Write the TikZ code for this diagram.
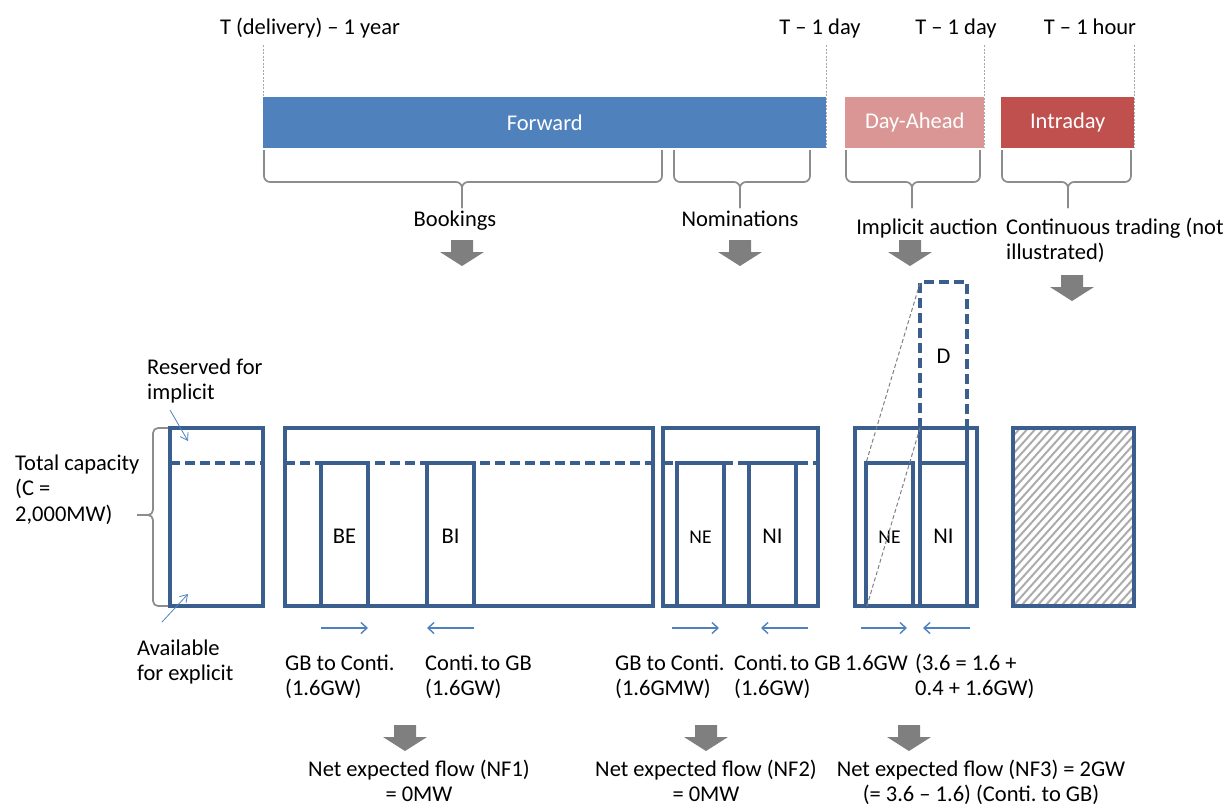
\documentclass[tikz,border=0pt]{standalone}
\usepackage{fontspec}
\setmainfont{Carlito}
\usetikzlibrary{arrows.meta}
\frenchspacing
\definecolor{fwd}{HTML}{4F81BD}
\definecolor{dayahead}{HTML}{D99694}
\definecolor{intra}{HTML}{C0504D}
\definecolor{boxblue}{HTML}{3A5F8F}
\definecolor{garrow}{HTML}{7F7F7F}
\definecolor{bracegray}{HTML}{8C8C8C}
\newcommand{\tsp}{\hspace{0.1em}}
\tikzset{
  lbl/.style={inner sep=0pt, align=left, anchor=base west},
  clbl/.style={inner sep=0pt, align=center, anchor=base},
  bar/.style={draw=none, inner sep=0pt, anchor=north west, text=white, minimum height=51pt},
  tick/.style={draw=gray!70, line width=0.8pt, dash pattern=on 2pt off 1.5pt},
  bracestyle/.style={draw=bracegray, line width=1.7pt, rounded corners=6pt},
  bxs/.style={draw=boxblue, line width=3.2pt},
  bxd/.style={draw=boxblue, line width=3.2pt, dash pattern=on 10pt off 5pt},
  blockarr/.style={fill=garrow, draw=none},
  flowarr/.style={draw=fwd, line width=1.4pt, -{Straight Barb[length=6pt,width=11pt]}},
  ptr/.style={draw=fwd, line width=0.8pt, -{Straight Barb[length=7pt,width=9pt]}},
  proj/.style={draw=gray, line width=1pt, dash pattern=on 4pt off 2.5pt},
  small/.style={font=\fontsize{19.5}{22}\selectfont}
}
\begin{document}
\begin{tikzpicture}[x=1pt,y=-1pt, font=\fontsize{22.5}{25.5}\selectfont\frenchspacing]
\useasboundingbox (0,0) rectangle (1232,807);

% ---- top time labels
\node[clbl] (tyear) at (310,34) {T (delivery) – 1 year};
\node[clbl] (tday1) at (820,34) {T – 1 day};
\node[clbl] (tday2) at (956,34) {T – 1 day};
\node[clbl] (thour) at (1090,34) {T – 1 hour};

% ---- dashed ticks
\coordinate (k1a) at (263,45); \coordinate (k1b) at (263,97);
\coordinate (k2a) at (826,45); \coordinate (k2b) at (826,148);
\coordinate (k3a) at (984,45); \coordinate (k3b) at (984,148);
\coordinate (k4a) at (1134,45); \coordinate (k4b) at (1134,148);
\draw[tick] (k1a) -- (k1b);
\draw[tick] (k2a) -- (k2b);
\draw[tick] (k3a) -- (k3b);
\draw[tick] (k4a) -- (k4b);

% ---- bars
\node[bar, fill=fwd, minimum width=563pt] (fwdbar) at (263,97) {Forward};
\node[bar, fill=dayahead, minimum width=139pt] (dabar) at (845,97) {Day-Ahead};
\node[bar, fill=intra, minimum width=133pt] (idbar) at (1001,97) {Intraday};

% ---- braces
\foreach \a/\b/\m in {264/662/462, 674/810/740, 846/980/912, 1002/1131/1068}{
  \draw[bracestyle] (\a,150) -- (\a,182) -- (\m,182) -- (\m,208);
  \draw[bracestyle] (\b,150) -- (\b,182) -- (\m,182) -- (\m,208);
}

% ---- phase labels
\node[clbl] (book) at (455,226) {Bookings};
\node[clbl] (nomi) at (740,226) {Nominations};
\node[clbl] (impl) at (927,234) {Implicit auction};
\node[lbl] (cont) at (1006,259.5) {Continuous trading (not\\illustrated)};

% ---- grey block arrows
\foreach \c/\t in {462/240, 740/240, 910/240, 1072/275, 405/725, 706/725, 909/725}{
  \fill[blockarr] (\c-11,\t) -- (\c+11,\t) -- (\c+11,\t+12) -- (\c+22,\t+12) -- (\c,\t+26) -- (\c-22,\t+12) -- (\c-11,\t+12) -- cycle;
}

% ---- left labels
\node[lbl] (resv) at (147,399.5) {Reserved for\\implicit};
\node[lbl] (total) at (15,521) {Total capacity\\(C =\\2,000MW)};
\node[lbl] (avail) at (137,680.5) {Available\\for explicit};

% left brace
\draw[bracestyle, rounded corners=5pt] (170,428) -- (153,428) -- (153,515) -- (137,515);
\draw[bracestyle, rounded corners=5pt] (170,606) -- (153,606) -- (153,515) -- (137,515);

% ---- Box A
\draw[bxs] (170,428) rectangle (263,606);
\draw[bxd] (170,463) -- (263,463);
\coordinate (pa1) at (170,410); \coordinate (pa2) at (188,441);
\coordinate (pb1) at (162,622); \coordinate (pb2) at (188,594);
\draw[ptr] (pa1) -- (pa2);
\draw[ptr] (pb1) -- (pb2);

% ---- Box B
\draw[bxs] (285,428) rectangle (653,606);
\draw[bxd] (285,463) -- (653,463);
\draw[bxs] (321,463) rectangle (368,606);
\draw[bxs] (427,463) rectangle (474,606);
\node[clbl] (be) at (344.5,543) {BE};
\node[clbl] (bi) at (450.5,543) {BI};

% ---- Box C
\draw[bxs] (663,428) rectangle (818,606);
\draw[bxd] (663,463) -- (818,463);
\draw[bxs] (677,463) rectangle (724,606);
\draw[bxs] (749,463) rectangle (796,606);
\node[clbl, small] (ne1) at (700.5,543) {NE};
\node[clbl] (ni1) at (772.5,543) {NI};

% ---- Box D
\draw[bxs] (855,428) rectangle (977,606);
\draw[bxs] (866,463) rectangle (913,606);
\draw[bxs] (920,428) -- (920,606);
\draw[bxs] (967,428) -- (967,606);
\draw[bxs] (920,463) -- (967,463);
\draw[bxd] (920,428) -- (920,282) -- (967,282) -- (967,428);
\node[clbl] (dd) at (943.5,363) {D};
\node[clbl, small] (ne2) at (889.5,543) {NE};
\node[clbl] (ni2) at (943.5,543) {NI};
\coordinate (dtl) at (920,283); \coordinate (netl) at (866,463);
\coordinate (dbl) at (920,428); \coordinate (nebl) at (866,609);
\draw[proj] (dtl) -- (netl);
\draw[proj] (dbl) -- (nebl);

% ---- Box E (hatched)
\begin{scope}
  \clip (1013,428) rectangle (1134,606);
  \foreach \i in {-200,-192,...,130}{
    \draw[gray!65, line width=2pt] (1013+\i,606) -- (1013+\i+170,416);
  }
\end{scope}
\draw[bxs] (1013,428) rectangle (1134,606);

% ---- flow arrows
\coordinate (f1a) at (321,628); \coordinate (f1b) at (368,628);
\coordinate (f2a) at (474,628); \coordinate (f2b) at (427,628);
\coordinate (f3a) at (672,628); \coordinate (f3b) at (719,628);
\coordinate (f4a) at (808,628); \coordinate (f4b) at (761,628);
\coordinate (f5a) at (861,628); \coordinate (f5b) at (907,628);
\coordinate (f6a) at (970,628); \coordinate (f6b) at (923,628);
\draw[flowarr] (f1a) -- (f1b);
\draw[flowarr] (f2a) -- (f2b);
\draw[flowarr] (f3a) -- (f3b);
\draw[flowarr] (f4a) -- (f4b);
\draw[flowarr] (f5a) -- (f5b);
\draw[flowarr] (f6a) -- (f6b);

% ---- flow labels
\node[lbl] (l1) at (285,695.5) {GB to Conti.\\(1.6GW)};
\node[lbl] (l2) at (425,695.5) {Conti.\tsp to GB\\(1.6GW)};
\node[lbl] (l3) at (615,695.5) {GB to Conti.\\(1.6GMW)};
\node[lbl] (l4) at (734,695.5) {Conti.\tsp to GB\\(1.6GW)};
\node[lbl] (l5) at (845,670) {1.6GW};
\node[lbl] (l6) at (915,695.5) {(3.6 = 1.6 +\\0.4 + 1.6GW)};

% ---- net flow labels
\node[clbl] (nf1) at (419,801.5) {Net expected flow (NF1)\\= 0MW};
\node[clbl] (nf2) at (706,801.5) {Net expected flow (NF2)\\= 0MW};
\node[clbl] (nf3) at (981,801.5) {Net expected flow (NF3) = 2GW\\(= 3.6 – 1.6) (Conti. to GB)};
\end{tikzpicture}
\end{document}
